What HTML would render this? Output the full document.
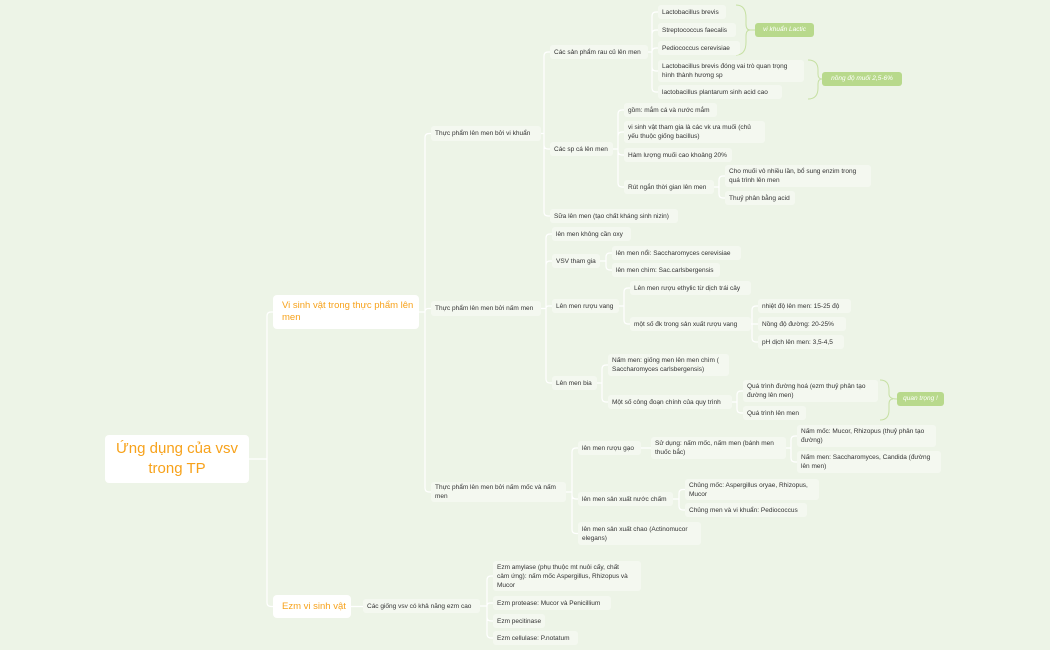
<!DOCTYPE html>
<html><head><meta charset="utf-8">
<style>
body{margin:0;width:1050px;height:650px;background:#edf4e7;overflow:hidden;position:relative;font-family:"Liberation Sans","Noto Sans CJK SC",sans-serif;}
.n{position:absolute;background:#f4f8f0;border-radius:3px;font-size:6.5px;line-height:9px;color:#333;padding:0 4px;box-sizing:border-box;white-space:nowrap;display:flex;align-items:center;}
.m{position:absolute;background:#fff;border-radius:4px;color:#f7a21b;font-size:9.5px;line-height:12px;padding:0 9px;box-sizing:border-box;white-space:nowrap;display:flex;align-items:center;}
.g{position:absolute;background:#b8d98c;border-radius:3px;color:#fff;font-style:italic;font-size:6.5px;line-height:14px;text-align:center;white-space:nowrap;}
svg{position:absolute;left:0;top:0;}
</style></head><body>
<svg id="s" width="1050" height="650"></svg>
<div id="c"></div>
<script>
var N=[
["root",105,435,144,48,"Ứng dụng của vsv<br>trong TP",null,"r"],
["m1",273,295,146,34,"Vi sinh vật trong thực phẩm lên<br>men","root","m"],
["m2",273,595,78,23,"Ezm vi sinh vật","root","m"],
["vk",431,126,110,15,"Thực phẩm lên men bởi vi khuẩn","m1"],
["nm",431,301,110,15,"Thực phẩm lên men bởi nấm men","m1"],
["nmm",431,482,135,20,"Thực phẩm lên men bởi nấm mốc và nấm<br>men","m1"],
["ezc",363,599,117,14,"Các giống vsv có khả năng ezm cao","m2"],
["e1",493,561,148,30,"Ezm amylase (phụ thuộc mt nuôi cấy, chất<br>cảm ứng): nấm mốc Aspergillus, Rhizopus và<br>Mucor","ezc"],
["e2",493,596,118,14,"Ezm protease: Mucor và Penicillium","ezc"],
["e3",493,614,52,14,"Ezm pecitinase","ezc"],
["e4",493,631,85,14,"Ezm cellulase: P.notatum","ezc"],
["rc",550,45,98,14,"Các sản phẩm rau củ lên men","vk"],
["ca",550,142,63,14,"Các sp cá lên men","vk"],
["sua",550,209,128,14,"Sữa lên men (tạo chất kháng sinh nizin)","vk"],
["l1",658,5,68,14,"Lactobacillus brevis","rc"],
["l2",658,23,78,14,"Streptococcus faecalis","rc"],
["l3",658,41,82,14,"Pediococcus cerevisiae","rc"],
["l4",658,60,146,22,"Lactobacillus brevis đóng vai trò quan trọng<br>hình thành hương sp","rc"],
["l5",658,85,124,14,"lactobacillus plantarum sinh acid cao","rc"],
["c1",624,103,93,14,"gồm: mắm cá và nước mắm","ca"],
["c2",624,121,141,22,"vi sinh vật tham gia là các vk ưa muối (chủ<br>yếu thuộc giống bacillus)","ca"],
["c3",624,148,108,14,"Hàm lượng muối cao khoảng 20%","ca"],
["c4",624,180,90,14,"Rút ngắn thời gian lên men","ca"],
["c41",725,165,146,22,"Cho muối vô nhiều lần, bổ sung enzim trong<br>quá trình lên men","c4"],
["c42",725,191,70,14,"Thuỷ phân bằng acid","c4"],
["n1",552,227,79,14,"lên men không cần oxy","nm"],
["n2",552,254,48,14,"VSV tham gia","nm"],
["n3",552,299,67,14,"Lên men rượu vang","nm"],
["n4",552,376,45,14,"Lên men bia","nm"],
["n21",612,246,129,14,"lên men nổi: Saccharomyces cerevisiae","n2"],
["n22",612,263,108,14,"lên men chìm: Sac.carlsbergensis","n2"],
["n31",630,281,121,14,"Lên men rượu ethylic từ dịch trái cây","n3"],
["n32",630,317,121,14,"một số đk trong sản xuất rượu vang","n3"],
["d1",758,299,93,14,"nhiệt độ lên men: 15-25 độ","n32"],
["d2",758,317,88,14,"Nồng độ đường: 20-25%","n32"],
["d3",758,335,86,14,"pH dịch lên men: 3,5-4,5","n32"],
["b1",608,354,121,22,"Nấm men: giống men lên men chìm (<br>Saccharomyces carlsbergensis)","n4"],
["b2",608,395,124,14,"Một số công đoạn chính của quy trình","n4"],
["b21",743,380,135,22,"Quá trình đường hoá (ezm thuỷ phân tạo<br>đường lên men)","b2"],
["b22",743,406,63,14,"Quá trình lên men","b2"],
["g1",578,441,63,14,"lên men rượu gạo","nmm"],
["g2",578,492,95,14,"lên men sản xuất nước chấm","nmm"],
["g3",578,522,123,23,"lên men sản xuất chao (Actinomucor<br>elegans)","nmm"],
["g11",651,437,135,22,"Sử dụng: nấm mốc, nấm men (bánh men<br>thuốc bắc)","g1"],
["g111",797,425,139,22,"Nấm mốc: Mucor, Rhizopus (thuỷ phân tạo<br>đường)","g11"],
["g112",797,451,144,22,"Nấm men: Saccharomyces, Candida (đường<br>lên men)","g11"],
["g21",685,479,134,21,"Chủng mốc: Aspergillus oryae, Rhizopus,<br>Mucor","g2"],
["g22",685,503,122,14,"Chủng men và vi khuẩn: Pediococcus","g2"]
];
var M={},h="",p="";
N.forEach(function(a){M[a[0]]=a;});
N.forEach(function(a){
 var st="left:"+a[1]+"px;top:"+a[2]+"px;width:"+a[3]+"px;height:"+a[4]+"px;";
 if(a[7]=="r") h+='<div class="m" style="'+st+'font-size:15px;line-height:20px;justify-content:center;text-align:center">'+a[5]+'</div>';
 else if(a[7]=="m") h+='<div class="m" style="'+st+'">'+a[5]+'</div>';
 else h+='<div class="n" style="'+st+'"><span>'+a[5]+'</span></div>';
 if(a[6]){var q=M[a[6]];var px=q[1]+q[3],py=q[2]+q[4]/2,cy=a[2]+a[4]/2,cx=a[1],vx=cx-6;
  var r=Math.min(4,Math.abs(cy-py));var sg=cy>py?1:-1;
  if(Math.abs(cy-py)<1) p+='M'+px+','+py+'H'+cx;
  else p+='M'+px+','+py+'H'+vx+'V'+(cy-sg*r)+'Q'+vx+','+cy+' '+(vx+r)+','+cy+'H'+cx;}
});
document.getElementById("c").innerHTML=h+
'<div class="g" style="left:755px;top:23px;width:59px;height:14px">vi khuẩn Lactic</div>'+
'<div class="g" style="left:822px;top:72px;width:80px;height:14px">nồng độ muối 2,5-6%</div>'+
'<div class="g" style="left:897px;top:392px;width:47px;height:14px">quan trọng !</div>';
var br='<path d="M736,5 Q746,5 746,18 V24 Q746,30 750,30 H755 M750,30 Q746,30 746,36 V42 Q746,55 736,55" fill="none" stroke="#c6e0a3" stroke-width="1"/>'+
'<path d="M808,60 Q818,60 818,70 V74 Q818,79 822,79 M822,79 Q818,79 818,84 V88 Q818,99 808,99" fill="none" stroke="#c6e0a3" stroke-width="1"/>'+
'<path d="M880,380 Q889,380 889,390 V394 Q889,399 897,399 M893,399 Q889,399 889,404 V410 Q889,420 880,420" fill="none" stroke="#c6e0a3" stroke-width="1"/>';
document.getElementById("s").innerHTML='<path d="'+p+'" fill="none" stroke="#ffffff" stroke-width="1.2"/>'+br;
</script>
</body></html>
